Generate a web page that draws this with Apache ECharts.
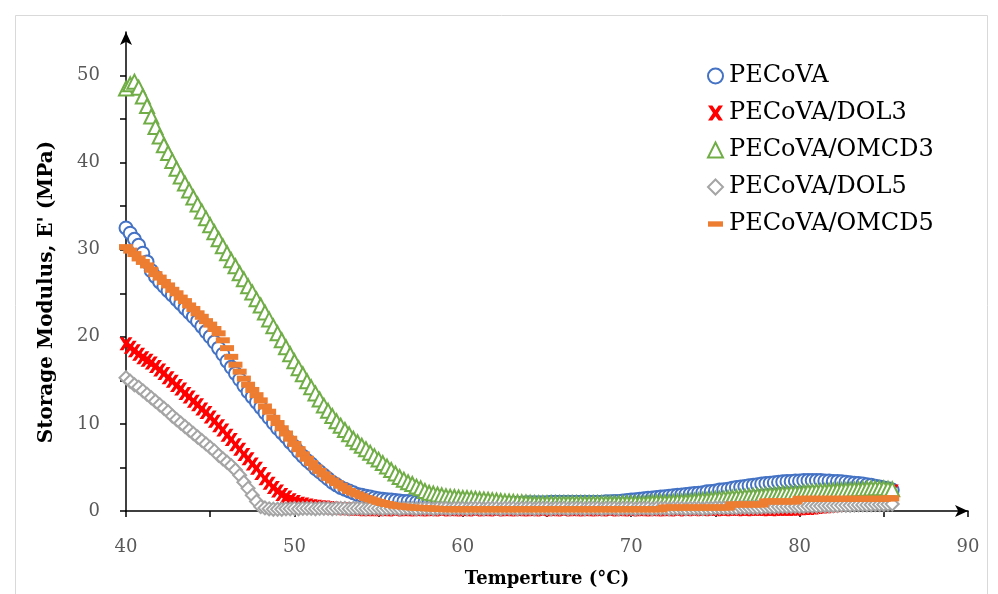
<!DOCTYPE html>
<html>
<head>
<meta charset="utf-8">
<script src="https://cdn.jsdelivr.net/npm/echarts@6/dist/echarts.min.js"></script>
<style>html,body{margin:0;padding:0;background:#fff;}#c{width:998px;height:594px;}</style>
</head>
<body>
<div id="c"></div>
<script>
const temps = [
40,40.25,40.5,40.75, 41,41.25,41.5,41.75, 42,42.25,42.5,42.75, 43,43.25,43.5,43.75, 44,44.25,44.5,44.75,
45,45.25,45.5,45.75, 46,46.25,46.5,46.75, 47,47.25,47.5,47.75, 48,48.25,48.5,48.75, 49,49.25,49.5,49.75,
50,50.25,50.5,50.75, 51,51.25,51.5,51.75, 52,52.25,52.5,52.75, 53,53.25,53.5,53.75, 54,54.25,54.5,54.75,
55,55.25,55.5,55.75, 56,56.25,56.5,56.75, 57,57.25,57.5,57.75, 58,58.25,58.5,58.75, 59,59.25,59.5,59.75,
60,60.25,60.5,60.75, 61,61.25,61.5,61.75, 62,62.25,62.5,62.75, 63,63.25,63.5,63.75, 64,64.25,64.5,64.75,
65,65.25,65.5,65.75, 66,66.25,66.5,66.75, 67,67.25,67.5,67.75, 68,68.25,68.5,68.75, 69,69.25,69.5,69.75,
70,70.25,70.5,70.75, 71,71.25,71.5,71.75, 72,72.25,72.5,72.75, 73,73.25,73.5,73.75, 74,74.25,74.5,74.75,
75,75.25,75.5,75.75, 76,76.25,76.5,76.75, 77,77.25,77.5,77.75, 78,78.25,78.5,78.75, 79,79.25,79.5,79.75,
80,80.25,80.5,80.75, 81,81.25,81.5,81.75, 82,82.25,82.5,82.75, 83,83.25,83.5,83.75, 84,84.25,84.5,84.75,
85,85.25,85.5];
const pecova = [
32.5,31.9,31.2,30.5, 29.6,28.6,27.6,26.9, 26.3,25.8,25.3,24.8, 24.3,23.8,23.3,22.8, 22.3,21.8,21.2,20.6,
20.0,19.4,18.7,18.0, 17.2,16.5,15.8,15.1, 14.4,13.7,13.1,12.5, 11.9,11.3,10.7,10.1, 9.5,9.0,8.5,7.9,
7.4,6.8,6.3,5.8, 5.4,4.9,4.5,4.1, 3.7,3.3,3.0,2.7, 2.5,2.3,2.1,1.9, 1.8,1.7,1.6,1.5,
1.4,1.35,1.3,1.25, 1.2,1.15,1.1,1.1, 1.05,1.0,1.0,1.0, 1.0,0.95,0.95,0.95, 0.95,0.9,0.9,0.9,
0.9,0.9,0.9,0.9, 0.9,0.9,0.9,0.9, 0.9,0.9,0.9,0.9, 0.9,0.9,0.9,0.95, 0.95,0.95,0.95,0.95,
0.95,1.0,1.0,1.0, 1.0,1.0,1.0,1.0, 1.0,1.0,1.0,1.0, 1.0,1.0,1.05,1.05, 1.1,1.1,1.15,1.2,
1.25,1.3,1.35,1.4, 1.45,1.5,1.55,1.6, 1.65,1.7,1.75,1.8, 1.85,1.9,1.95,2.0, 2.05,2.1,2.2,2.25,
2.3,2.4,2.45,2.5, 2.6,2.7,2.75,2.8, 2.9,2.95,3.0,3.1, 3.15,3.2,3.25,3.3, 3.35,3.4,3.4,3.45,
3.45,3.5,3.5,3.5, 3.5,3.5,3.45,3.45, 3.4,3.4,3.35,3.3, 3.25,3.2,3.15,3.1, 3.0,2.95,2.85,2.75,
2.65,2.55,2.4];
const dol3 = [
19.2,18.8,18.4,18.0, 17.6,17.3,17.0,16.6, 16.2,15.8,15.3,14.9, 14.4,14.0,13.5,13.1, 12.6,12.2,11.7,11.3,
10.8,10.3,9.8,9.3, 8.7,8.2,7.6,7.1, 6.5,6.0,5.4,4.9, 4.3,3.7,3.2,2.7, 2.3,1.9,1.6,1.3,
1.1,0.9,0.8,0.7, 0.6,0.55,0.5,0.45, 0.4,0.35,0.3,0.3, 0.25,0.25,0.2,0.2, 0.2,0.15,0.15,0.2,
0.2,0.15,0.15,0.2, 0.15,0.2,0.15,0.15, 0.2,0.15,0.15,0.2, 0.15,0.15,0.2,0.15, 0.2,0.15,0.15,0.2,
0.15,0.15,0.2,0.15, 0.2,0.15,0.15,0.2, 0.15,0.2,0.15,0.15, 0.2,0.15,0.15,0.2, 0.15,0.15,0.2,0.15,
0.2,0.15,0.15,0.2, 0.15,0.2,0.15,0.15, 0.2,0.15,0.15,0.2, 0.15,0.15,0.2,0.15, 0.2,0.15,0.15,0.2,
0.15,0.2,0.15,0.15, 0.2,0.15,0.15,0.2, 0.15,0.15,0.2,0.15, 0.2,0.15,0.2,0.2, 0.2,0.15,0.2,0.2,
0.2,0.2,0.15,0.2, 0.2,0.2,0.2,0.15, 0.2,0.2,0.2,0.2, 0.2,0.15,0.2,0.2, 0.2,0.2,0.2,0.2,
0.25,0.28,0.3,0.35, 0.4,0.45,0.5,0.55, 0.6,0.68,0.75,0.82, 0.9,1.0,1.1,1.2, 1.3,1.45,1.6,1.8,
2.0,2.15,2.3];
const omcd3 = [
48.5,49.0,49.3,48.6, 47.6,46.5,45.3,44.1, 43.0,42.0,41.1,40.2, 39.3,38.4,37.6,36.8, 36.0,35.2,34.4,33.6,
32.8,32.0,31.2,30.4, 29.6,28.8,28.1,27.3, 26.6,25.8,25.1,24.3, 23.6,22.8,22.0,21.2, 20.4,19.6,18.8,18.0,
17.2,16.4,15.7,14.9, 14.2,13.5,12.8,12.1, 11.5,10.9,10.3,9.8, 9.3,8.8,8.3,7.9, 7.5,7.1,6.7,6.3,
5.9,5.5,5.1,4.7, 4.3,3.9,3.6,3.3, 3.1,2.8,2.6,2.3, 2.1,2.0,1.9,1.8, 1.7,1.65,1.6,1.55,
1.5,1.48,1.45,1.4, 1.35,1.33,1.3,1.25, 1.2,1.15,1.1,1.08, 1.05,1.02,1.0,0.98, 0.95,0.92,0.9,0.9,
0.9,0.9,0.9,0.9, 0.9,0.9,0.9,0.9, 0.9,0.9,0.9,0.9, 0.9,0.9,0.9,0.9, 0.9,0.9,0.9,0.9,
0.9,0.9,0.9,0.9, 0.95,0.97,1.0,1.0, 1.0,1.02,1.05,1.08, 1.1,1.12,1.15,1.2, 1.25,1.28,1.3,1.35,
1.4,1.42,1.45,1.5, 1.55,1.58,1.6,1.65, 1.7,1.72,1.75,1.8, 1.85,1.88,1.9,1.95, 2.0,2.02,2.05,2.08,
2.1,2.15,2.2,2.22, 2.25,2.28,2.3,2.32, 2.35,2.38,2.4,2.42, 2.45,2.48,2.5,2.52, 2.55,2.58,2.6,2.6,
2.6,2.55,2.5];
const dol5 = [
15.3,14.9,14.5,14.2, 13.8,13.4,13.0,12.6, 12.2,11.8,11.4,10.9, 10.5,10.1,9.7,9.3, 8.9,8.5,8.1,7.7,
7.3,6.9,6.4,6.0, 5.6,5.2,4.7,4.1, 3.3,2.6,1.8,1.1, 0.5,0.35,0.25,0.2, 0.2,0.2,0.25,0.25,
0.3,0.25,0.3,0.3, 0.3,0.25,0.3,0.3, 0.3,0.25,0.3,0.3, 0.3,0.25,0.3,0.3, 0.3,0.25,0.3,0.3,
0.3,0.25,0.3,0.3, 0.3,0.25,0.3,0.3, 0.3,0.25,0.3,0.3, 0.3,0.25,0.3,0.3, 0.3,0.25,0.3,0.3,
0.3,0.25,0.3,0.3, 0.3,0.25,0.3,0.3, 0.3,0.25,0.3,0.3, 0.3,0.25,0.3,0.3, 0.3,0.25,0.3,0.3,
0.3,0.25,0.3,0.3, 0.3,0.25,0.3,0.3, 0.3,0.25,0.3,0.3, 0.3,0.25,0.3,0.3, 0.3,0.25,0.3,0.3,
0.3,0.25,0.3,0.3, 0.3,0.25,0.3,0.3, 0.3,0.25,0.3,0.3, 0.3,0.25,0.3,0.3, 0.3,0.25,0.3,0.3,
0.35,0.35,0.35,0.35, 0.35,0.35,0.4,0.4, 0.4,0.4,0.4,0.42, 0.45,0.45,0.45,0.48, 0.5,0.5,0.5,0.52,
0.5,0.52,0.55,0.55, 0.55,0.58,0.6,0.6, 0.6,0.62,0.65,0.65, 0.65,0.68,0.7,0.7, 0.7,0.72,0.75,0.75,
0.75,0.78,0.8];
const omcd5 = [
30.3,29.9,29.5,29.0, 28.6,28.2,27.7,27.2, 26.8,26.3,25.9,25.4, 25.0,24.5,24.1,23.6, 23.2,22.7,22.3,21.8,
21.4,20.9,20.4,19.6, 18.7,17.7,16.8,16.0, 15.2,14.5,13.9,13.3, 12.7,12.0,11.4,10.7, 10.1,9.5,8.9,8.3,
7.7,7.1,6.5,6.0, 5.5,5.0,4.6,4.2, 3.8,3.5,3.2,2.9, 2.6,2.3,2.1,1.9, 1.7,1.5,1.35,1.2,
1.05,0.92,0.8,0.7, 0.6,0.55,0.5,0.45, 0.4,0.38,0.35,0.32, 0.3,0.28,0.25,0.22, 0.2,0.2,0.2,0.2,
0.2,0.2,0.2,0.2, 0.2,0.2,0.2,0.2, 0.2,0.2,0.2,0.2, 0.2,0.2,0.2,0.2, 0.2,0.2,0.2,0.2,
0.2,0.2,0.2,0.2, 0.2,0.2,0.2,0.2, 0.2,0.2,0.2,0.2, 0.2,0.2,0.2,0.2, 0.2,0.2,0.2,0.2,
0.2,0.2,0.2,0.2, 0.2,0.2,0.2,0.2, 0.4,0.4,0.4,0.4, 0.4,0.4,0.4,0.4, 0.4,0.4,0.4,0.4,
0.4,0.4,0.4,0.4, 0.75,0.75,0.75,0.75, 0.75,0.75,0.75,0.75, 1.1,1.1,1.1,1.1, 1.1,1.1,1.1,1.1,
1.4,1.4,1.4,1.4, 1.4,1.4,1.4,1.4, 1.4,1.4,1.4,1.4, 1.4,1.4,1.4,1.4, 1.4,1.4,1.4,1.4,
1.4,1.45,1.45];
const seriesNames = ['PECoVA','PECoVA/DOL3','PECoVA/OMCD3','PECoVA/DOL5','PECoVA/OMCD5'];
const xLabels = [40,50,60,70,80,90];
const xTicks = [40,45,50,55,60,65,70,75,80,85,90];
const yLabels = [0,10,20,30,40,50];
const yTicks = [0,5,10,15,20,25,30,35,40,45,50];

const pair = (vals) => temps.map((t, i) => [t, vals[i]]);
const xShape = 'path://M0,0L3.5,0L6,3.5L8.5,0L12,0L8,6L12,12L8.5,12L6,8.5L3.5,12L0,12L4,6Z';
const dashShape = 'path://M0,0L14,0L14,5L0,5Z';
const serif = 'DejaVu Serif';

const chart = echarts.init(document.getElementById('c'), null, {renderer: 'canvas'});
chart.setOption({
  animation: false,
  backgroundColor: '#fff',
  grid: {left: 126, right: 30, top: 32, bottom: 83, containLabel: false},
  xAxis: {
    type: 'value', min: 40, max: 90,
    axisLine: {show: true, onZero: false, lineStyle: {color: '#000', width: 1.5}, symbol: ['none', 'arrow'], symbolSize: [9, 13]},
    axisTick: {show: true, inside: false, length: 6, customValues: xTicks, lineStyle: {color: '#000', width: 1.5}},
    axisLabel: {customValues: xLabels, margin: 27, color: '#595959', fontFamily: serif, fontSize: 18},
    splitLine: {show: false}
  },
  yAxis: {
    type: 'value', min: 0, max: 55,
    axisLine: {show: true, lineStyle: {color: '#000', width: 1.5}, symbol: ['none', 'arrow'], symbolSize: [9, 13]},
    axisTick: {show: true, inside: false, length: 6, customValues: yTicks, lineStyle: {color: '#000', width: 1.5}},
    axisLabel: {customValues: yLabels, margin: 26, color: '#595959', fontFamily: serif, fontSize: 18},
    splitLine: {show: false}
  },
  legend: {
    orient: 'vertical', left: 702, top: 59, itemGap: 13, itemWidth: 15, itemHeight: 15,
    textStyle: {fontFamily: serif, fontSize: 24, color: '#000', padding: [0,0,0,1]},
    data: [
      {name: seriesNames[0], icon: 'emptyCircle', itemStyle: {borderWidth: 3}},
      {name: seriesNames[1], icon: xShape},
      {name: seriesNames[2], icon: 'emptyTriangle', itemStyle: {borderWidth: 3}},
      {name: seriesNames[3], icon: 'emptyDiamond', itemStyle: {borderWidth: 3}},
      {name: seriesNames[4], icon: dashShape}
    ]
  },
  series: [
    {name: seriesNames[0], type: 'scatter', data: pair(pecova), symbol: 'emptyCircle', symbolSize: 13,
     itemStyle: {color: '#4472C4', borderColor: '#4472C4', borderWidth: 2.6, opacity: 1}},
    {name: seriesNames[1], type: 'scatter', data: pair(dol3), symbol: xShape, symbolSize: 13,
     itemStyle: {color: '#FF0000', opacity: 1}},
    {name: seriesNames[2], type: 'scatter', data: pair(omcd3), symbol: 'emptyTriangle', symbolSize: 14,
     itemStyle: {color: '#70AD47', borderColor: '#70AD47', borderWidth: 2.6, opacity: 1}},
    {name: seriesNames[3], type: 'scatter', data: pair(dol5), symbol: 'emptyDiamond', symbolSize: 13,
     itemStyle: {color: '#A5A5A5', borderColor: '#A5A5A5', borderWidth: 2.6, opacity: 1}},
    {name: seriesNames[4], type: 'scatter', data: pair(omcd5), symbol: 'rect', symbolSize: [14, 6],
     itemStyle: {color: '#ED7D31', opacity: 1}}
  ],
  graphic: [
    {type: 'rect', left: 13, top: 13, shape: {width: 972, height: 620}, style: {fill: 'none', stroke: '#d9d9d9', lineWidth: 1}, silent: true, z: -1},
    {type: 'text', x: 47, y: 292, rotation: Math.PI / 2,
     style: {text: "Storage Modulus, E' (MPa)", fontFamily: serif, fontWeight: 'bold', fontSize: 20, fill: '#000', align: 'center', verticalAlign: 'middle'}},
    {type: 'text', x: 547, y: 579,
     style: {text: 'Temperture (°C)', fontFamily: serif, fontWeight: 'bold', fontSize: 18, fill: '#000', align: 'center', verticalAlign: 'middle'}}
  ]
});
</script>
</body>
</html>
